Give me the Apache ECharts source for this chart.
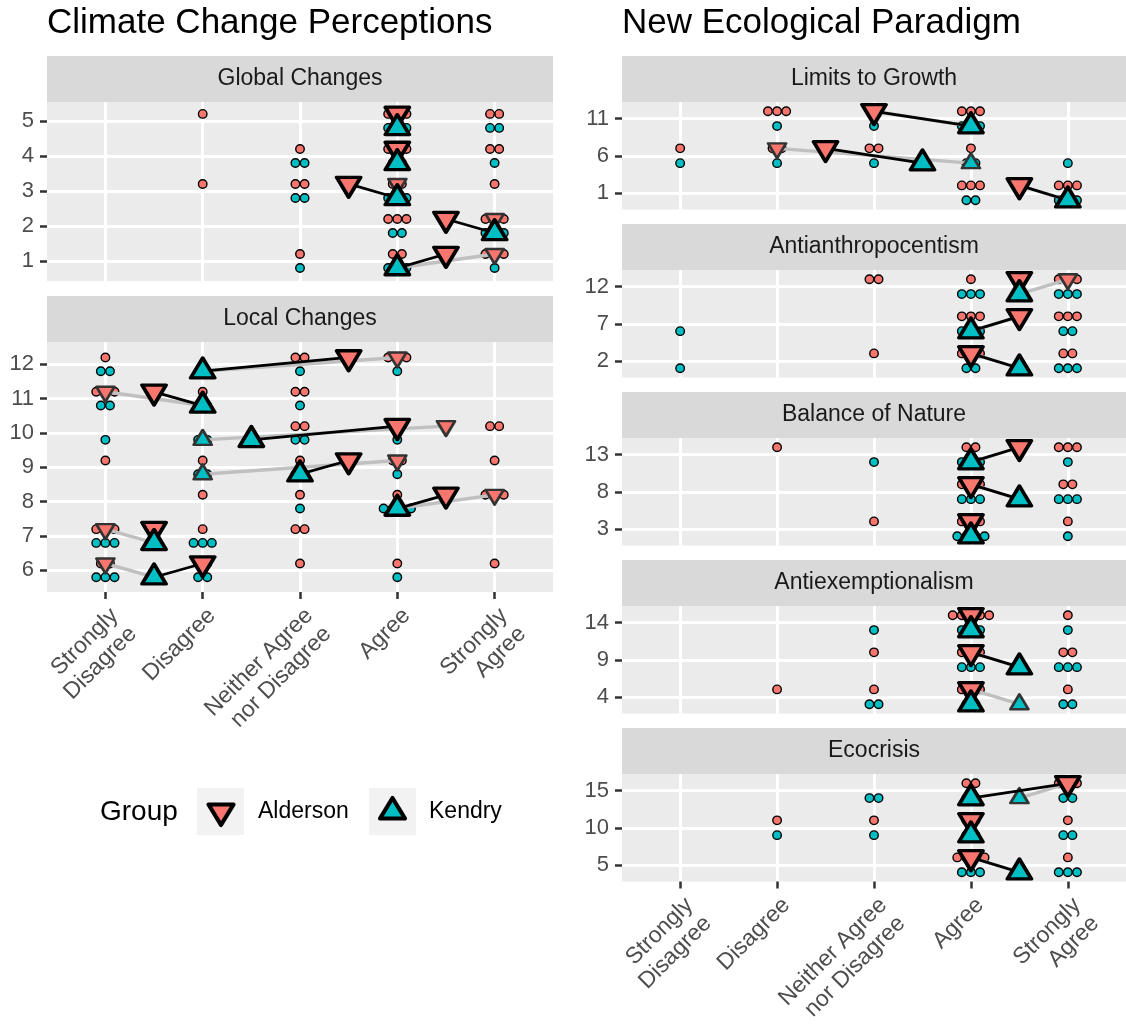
<!DOCTYPE html>
<html>
<head>
<meta charset="utf-8">
<script src="https://cdn.jsdelivr.net/npm/echarts@6/dist/echarts.min.js"></script>
<style>
  html, body { margin: 0; padding: 0; background: #fff; }
  #chart { width: 1126px; height: 1025px; }
</style>
</head>
<body>
<div id="chart"></div>
<script>
var myChart = echarts.init(document.getElementById('chart'));

var categories = ['Strongly\nDisagree', 'Disagree', 'Neither Agree\nnor Disagree', 'Agree', 'Strongly\nAgree'];

// answer counts per item (rows bottom -> top), columns follow categories
// median = black triangles [Alderson, Kendry], mode = grey triangles
var globalItems = ['1', '2', '3', '4', '5'];
var globalAlderson = [[0,0,1,2,3],[0,0,0,3,3],[0,1,2,2,1],[0,0,1,3,2],[0,1,0,3,2]];
var globalKendry = [[0,0,1,3,1],[0,0,0,2,3],[0,0,2,3,0],[0,0,2,2,1],[0,0,0,3,2]];
var globalMedian = [[4.5,4],[4.5,5],[3.5,4],[4,4],[4,4]];
var globalMode = [[5,4],[5,5],[4,4],[4,4],[4,4]];

var localItems = ['6', '7', '8', '9', '10', '11', '12'];
var localAlderson = [[2,2,1,1,1],[3,1,2,0,0],[0,1,1,1,3],[1,1,1,2,1],[0,0,2,2,2],[3,1,2,0,0],[1,0,2,3,0]];
var localKendry = [[3,2,0,1,0],[3,3,0,0,0],[0,0,1,4,0],[0,2,2,1,0],[1,2,2,1,0],[2,2,1,0,0],[2,1,1,1,0]];
var localMedian = [[2,1.5],[1.5,1.5],[4.5,4],[3.5,3],[4,2.5],[1.5,2],[3.5,2]];
var localMode = [[1,1.5],[1,1.5],[5,4],[4,2],[4.5,2],[1,2],[4,2]];

var limitsItems = ['1', '6', '11'];
var limitsAlderson = [[0,0,0,3,3],[1,2,2,1,0],[0,3,0,3,0]];
var limitsKendry = [[0,0,0,2,3],[1,1,1,2,1],[0,1,1,3,0]];
var limitsMedian = [[4.5,5],[2.5,3.5],[3,4]];
var limitsMode = [[4.5,5],[2,4],[3,4]];

var antiItems = ['2', '7', '12'];
var antiAlderson = [[0,0,1,3,2],[0,0,0,3,3],[0,0,2,1,3]];
var antiKendry = [[1,0,0,2,3],[1,0,0,3,2],[0,0,0,3,3]];
var antiMedian = [[4,4.5],[4.5,4],[4.5,4.5]];
var antiMode = [[4,4.5],[4.5,4],[5,4.5]];

var balanceItems = ['3', '8', '13'];
var balanceAlderson = [[0,0,1,3,1],[0,0,0,3,2],[0,1,0,2,3]];
var balanceKendry = [[0,0,0,4,1],[0,0,0,3,3],[0,0,1,3,1]];
var balanceMedian = [[4,4],[4,4.5],[4.5,4]];
var balanceMode = [[4,4],[4,4.5],[4.5,4]];

var exemptItems = ['4', '9', '14'];
var exemptAlderson = [[0,1,1,3,1],[0,0,1,3,2],[0,0,0,5,1]];
var exemptKendry = [[0,0,2,2,2],[0,0,0,3,3],[0,0,1,3,1]];
var exemptMedian = [[4,4],[4,4.5],[4,4]];
var exemptMode = [[4,4.5],[4,4.5],[4,4]];

var ecoItems = ['5', '10', '15'];
var ecoAlderson = [[0,0,0,4,1],[0,1,1,2,1],[0,0,0,2,3]];
var ecoKendry = [[0,0,0,3,3],[0,1,1,2,2],[0,0,2,2,2]];
var ecoMedian = [[4,4.5],[4,4],[5,4]];
var ecoMode = [[4,4.5],[4,4],[5,4.5]];

var RED = '#F8766D', TEAL = '#00BFC4';
var FONT = '"Liberation Sans", Arial, sans-serif';
var dotStep = 0.094;   // horizontal gap between stacked dots (x units)
var shift = 0.2;       // vertical dodge of the two groups

var facets = [
  {name: 'Global Changes', items: globalItems, ald: globalAlderson, ken: globalKendry, med: globalMedian, mode: globalMode,
   left: 47, top: 102, width: 506, height: 179, yMin: 0.43, yMax: 5.54, showX: false},
  {name: 'Local Changes', items: localItems, ald: localAlderson, ken: localKendry, med: localMedian, mode: localMode,
   left: 47, top: 342, width: 506, height: 250, yMin: 0.37, yMax: 7.65, showX: true},
  {name: 'Limits to Growth', items: limitsItems, ald: limitsAlderson, ken: limitsKendry, med: limitsMedian, mode: limitsMode},
  {name: 'Antianthropocentism', items: antiItems, ald: antiAlderson, ken: antiKendry, med: antiMedian, mode: antiMode},
  {name: 'Balance of Nature', items: balanceItems, ald: balanceAlderson, ken: balanceKendry, med: balanceMedian, mode: balanceMode},
  {name: 'Antiexemptionalism', items: exemptItems, ald: exemptAlderson, ken: exemptKendry, med: exemptMedian, mode: exemptMode},
  {name: 'Ecocrisis', items: ecoItems, ald: ecoAlderson, ken: ecoKendry, med: ecoMedian, mode: ecoMode}
];
// right column layout
for (var k = 2; k < 7; k++) {
  var f = facets[k];
  f.left = 622; f.width = 504; f.top = 102 + 168 * (k - 2); f.height = 107.5;
  f.yMin = 0.55; f.yMax = 3.45; f.showX = (k === 6);
}

function dotData(counts, dy) {
  var out = [];
  counts.forEach(function (row, j) {
    row.forEach(function (n, c) {
      for (var i = 0; i < n; i++) {
        out.push([c + 1 + (i - (n - 1) / 2) * dotStep, j + 1 + dy]);
      }
    });
  });
  return out;
}

var grids = [], xAxes = [], yAxes = [], series = [], graphics = [];

facets.forEach(function (f, g) {
  var levels = f.items.map(function (d, i) { return i + 1; });
  grids.push({left: f.left, top: f.top, width: f.width, height: f.height,
    outerBoundsMode: 'none', containLabel: false,
    show: true, backgroundColor: '#ebebeb', borderWidth: 0});
  xAxes.push({
    type: 'value', gridIndex: g, min: 0.4, max: 5.6,
    axisLine: {show: false},
    axisTick: {show: f.showX, length: 7, customValues: [1, 2, 3, 4, 5], lineStyle: {color: '#333', width: 2.5}},
    axisLabel: {show: f.showX, customValues: [1, 2, 3, 4, 5], rotate: 45, margin: 11,
      align: 'right', verticalAlign: 'top',
      fontSize: 23, lineHeight: 26, color: '#4d4d4d', fontFamily: FONT,
      formatter: function (v) { return categories[Math.round(v) - 1]; }},
    splitLine: {show: true, lineStyle: {color: '#fff', width: 3}}
  });
  yAxes.push({
    type: 'value', gridIndex: g, min: f.yMin, max: f.yMax,
    axisLine: {show: false},
    axisTick: {show: true, length: 7, customValues: levels, lineStyle: {color: '#333', width: 2.5}},
    axisLabel: {customValues: levels, margin: 13, fontSize: 22, color: '#4d4d4d', fontFamily: FONT,
      formatter: function (v) { return f.items[Math.round(v) - 1]; }},
    splitLine: {show: true, lineStyle: {color: '#fff', width: 3}}
  });

  var base = {xAxisIndex: g, yAxisIndex: g, silent: true, animation: false};
  function add(o) { series.push(Object.assign({}, base, o)); }

  add({type: 'scatter', symbol: 'circle', symbolSize: 8.5, data: dotData(f.ald, shift),
    itemStyle: {color: RED, borderColor: '#000', borderWidth: 1.4, opacity: 1}, z: 2});
  add({type: 'scatter', symbol: 'circle', symbolSize: 8.5, data: dotData(f.ken, -shift),
    itemStyle: {color: TEAL, borderColor: '#000', borderWidth: 1.4, opacity: 1}, z: 2});

  add({type: 'lines', coordinateSystem: 'cartesian2d', polyline: false, z: 3,
    lineStyle: {color: '#c0c0c0', width: 3.4, opacity: 1},
    data: f.mode.map(function (m, j) { return {coords: [[m[0], j + 1 + shift], [m[1], j + 1 - shift]]}; })});
  add({type: 'scatter', symbol: 'triangle', symbolSize: [18, 15], symbolRotate: 180, symbolOffset: [0, 2.5], z: 4,
    itemStyle: {color: RED, borderColor: '#333', borderWidth: 2.6, borderJoin: 'round', opacity: 1},
    data: f.mode.map(function (m, j) { return [m[0], j + 1 + shift]; })});
  add({type: 'scatter', symbol: 'triangle', symbolSize: [18, 15], symbolOffset: [0, -2.5], z: 4,
    itemStyle: {color: TEAL, borderColor: '#333', borderWidth: 2.6, borderJoin: 'round', opacity: 1},
    data: f.mode.map(function (m, j) { return [m[1], j + 1 - shift]; })});

  add({type: 'lines', coordinateSystem: 'cartesian2d', polyline: false, z: 5,
    lineStyle: {color: '#000', width: 2.8, opacity: 1},
    data: f.med.map(function (m, j) { return {coords: [[m[0], j + 1 + shift], [m[1], j + 1 - shift]]}; })});
  add({type: 'scatter', name: 'Alderson', symbol: 'triangle', symbolSize: [24, 20], symbolRotate: 180, symbolOffset: [0, 3.3], z: 6,
    itemStyle: {color: RED, borderColor: '#000', borderWidth: 3.6, borderJoin: 'round', opacity: 1},
    data: f.med.map(function (m, j) { return [m[0], j + 1 + shift]; })});
  add({type: 'scatter', name: 'Kendry', symbol: 'triangle', symbolSize: [24, 20], symbolOffset: [0, -3.3], z: 6,
    itemStyle: {color: TEAL, borderColor: '#000', borderWidth: 3.6, borderJoin: 'round', opacity: 1},
    data: f.med.map(function (m, j) { return [m[1], j + 1 - shift]; })});

  // facet strip
  graphics.push({type: 'rect', shape: {x: f.left, y: f.top - 46, width: f.width, height: 46},
    style: {fill: '#d9d9d9'}, silent: true});
  graphics.push({type: 'text', x: f.left + f.width / 2, y: f.top - 23, silent: true,
    style: {text: f.name, font: '23px ' + FONT, fill: '#1a1a1a', textAlign: 'center', textVerticalAlign: 'middle'}});
});

// panel titles
graphics.push({type: 'text', x: 47, y: 23, silent: true,
  style: {text: 'Climate Change Perceptions', font: '35px ' + FONT, fill: '#000', textAlign: 'left', textVerticalAlign: 'middle'}});
graphics.push({type: 'text', x: 622, y: 23, silent: true,
  style: {text: 'New Ecological Paradigm', font: '35px ' + FONT, fill: '#000', textAlign: 'left', textVerticalAlign: 'middle'}});

// legend
graphics.push({type: 'text', x: 100, y: 812, silent: true,
  style: {text: 'Group', font: '28px ' + FONT, fill: '#000', textAlign: 'left', textVerticalAlign: 'middle'}});
graphics.push({type: 'rect', shape: {x: 197, y: 788, width: 47, height: 47}, style: {fill: '#f2f2f2'}, silent: true});
graphics.push({type: 'rect', shape: {x: 369, y: 788, width: 47, height: 47}, style: {fill: '#f2f2f2'}, silent: true});
graphics.push({type: 'polygon', silent: true, shape: {points: [[208.5, 804.5], [233.5, 804.5], [221, 825]]},
  style: {fill: RED, stroke: '#000', lineWidth: 4.2, lineJoin: 'round'}});
graphics.push({type: 'polygon', silent: true, shape: {points: [[392.5, 798], [405, 818.5], [380, 818.5]]},
  style: {fill: TEAL, stroke: '#000', lineWidth: 4.2, lineJoin: 'round'}});
graphics.push({type: 'text', x: 258, y: 812, silent: true,
  style: {text: 'Alderson', font: '23px ' + FONT, fill: '#000', textAlign: 'left', textVerticalAlign: 'middle'}});
graphics.push({type: 'text', x: 429, y: 812, silent: true,
  style: {text: 'Kendry', font: '23px ' + FONT, fill: '#000', textAlign: 'left', textVerticalAlign: 'middle'}});

myChart.setOption({
  animation: false,
  backgroundColor: '#fff',
  grid: grids,
  xAxis: xAxes,
  yAxis: yAxes,
  series: series,
  graphic: graphics
});
</script>
</body>
</html>
